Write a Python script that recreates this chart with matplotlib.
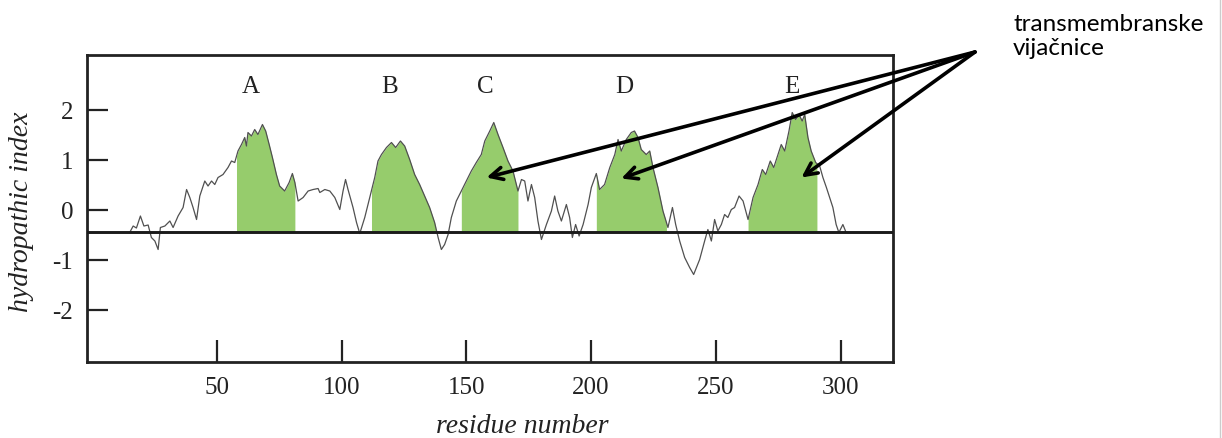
import numpy as np
import matplotlib
matplotlib.use("Agg")
import matplotlib.pyplot as plt
from matplotlib.lines import Line2D

plt.rcParams['axes.unicode_minus'] = False

# hydropathy profile (residue, index)
residue = [15.1, 16.5, 17.8, 19.4, 20.8, 22.5, 23.8, 25.2, 26.5, 27.4, 29.2, 31.2, 32.5,
           34.5, 36.5, 37.9, 39.2, 40.5, 41.9, 43.2, 45.2, 46.5, 47.9, 49.2, 50.5, 52.5,
           54.5, 55.9, 57.2, 58.5, 59.9, 61.2, 61.9, 62.5, 63.9, 65.2, 66.5, 68.3, 69.6,
           71.0, 72.3, 73.9, 75.2, 77.2, 79.0, 80.3, 81.3, 82.6, 84.6, 86.6, 88.6, 90.6,
           91.3, 93.3, 95.3, 97.3, 99.3, 100.6, 101.6, 102.6, 104.6, 106.0, 107.3, 109.3,
           111.3, 113.3, 114.6, 116.0, 118.0, 120.0, 121.7, 123.6, 125.3, 127.3, 129.3,
           131.3, 133.3, 135.3, 137.3, 138.7, 140.0, 141.3, 142.7, 144.0, 146.0, 148.0,
           150.0, 152.0, 154.0, 156.0, 157.4, 159.4, 161.0, 162.7, 164.7, 166.7, 168.7,
           170.7, 172.1, 173.4, 174.7, 176.1, 177.4, 178.7, 180.1, 182.1, 184.1, 185.4,
           186.7, 188.1, 190.1, 191.4, 192.5, 193.8, 195.2, 196.8, 198.8, 200.1, 202.1,
           203.4, 205.4, 207.5, 209.5, 210.8, 212.1, 214.1, 216.1, 217.4, 218.8, 220.1,
           222.1, 223.5, 224.8, 226.8, 228.8, 230.8, 232.6, 233.9, 235.5, 237.5, 239.5,
           241.1, 243.5, 245.5, 246.8, 248.2, 249.5, 250.8, 252.2, 253.5, 254.8, 256.2,
           257.5, 259.3, 260.9, 262.9, 264.9, 266.9, 268.6, 270.0, 271.8, 273.2, 274.9,
           276.2, 277.6, 279.3, 280.6, 282.0, 283.3, 284.6, 285.6, 286.9, 288.2, 290.0,
           291.6, 292.9, 294.3, 295.6, 296.9, 298.2, 299.3, 300.9, 302.2]
hydro = [-0.45, -0.32, -0.36, -0.12, -0.32, -0.30, -0.55, -0.62, -0.79, -0.35, -0.32, -0.22,
         -0.35, -0.12, 0.05, 0.41, 0.25, 0.05, -0.19, 0.28, 0.58, 0.48, 0.58, 0.51, 0.65,
         0.71, 0.85, 0.98, 0.95, 1.18, 1.31, 1.45, 1.28, 1.55, 1.48, 1.61, 1.51, 1.71, 1.58,
         1.31, 1.05, 0.71, 0.48, 0.38, 0.55, 0.73, 0.55, 0.18, 0.25, 0.38, 0.41, 0.43,
         0.35, 0.41, 0.38, 0.25, 0.01, 0.38, 0.61, 0.41, 0.05, -0.25, -0.47, -0.15,
         0.25, 0.65, 0.98, 1.11, 1.25, 1.35, 1.25, 1.38, 1.28, 1.01, 0.71,
         0.51, 0.28, 0.05, -0.25, -0.55, -0.79, -0.69, -0.49, -0.15, 0.18, 0.38,
         0.58, 0.78, 0.95, 1.11, 1.38, 1.58, 1.75, 1.51, 1.25, 0.98, 0.78,
         0.38, 0.61, 0.58, 0.18, 0.51, 0.25, -0.22, -0.59, -0.29, -0.02, 0.28,
         -0.02, -0.22, 0.11, -0.15, -0.55, -0.29, -0.52, -0.29, 0.11, 0.45, 0.73,
         0.41, 0.51, 0.85, 1.11, 1.41, 1.18, 1.41, 1.55, 1.58, 1.45, 1.21,
         1.11, 1.18, 0.85, 0.45, -0.02, -0.35, 0.05, -0.29, -0.62, -0.95, -1.15,
         -1.29, -0.99, -0.62, -0.39, -0.62, -0.19, -0.42, -0.29, -0.09, -0.15, 0.01,
         0.05, 0.28, 0.18, -0.19, 0.25, 0.51, 0.81, 0.71, 0.98, 0.85, 1.11,
         1.31, 1.18, 1.58, 1.95, 1.81, 1.91, 1.78, 1.91, 1.45, 1.18, 0.95,
         0.88, 0.65, 0.45, 0.25, 0.05, -0.29, -0.45, -0.29, -0.45]

BASELINE = -0.44

helix_names = ['A', 'B', 'C', 'D', 'E']
helix_start = [57.9, 112.0, 148.0, 202.1, 262.9]
helix_end = [81.3, 137.7, 170.7, 230.2, 290.5]
label_pos = [63.6, 119.3, 157.8, 213.5, 280.5]
label_y = 2.46

# where the three arrows point (C, D, E)
arrow_tips = [(158.1, 0.65), (212.1, 0.63), (284.3, 0.65)]

x_ticks = [50, 100, 150, 200, 250, 300]
y_ticks = [2, 1, 0, -1, -2]

SERIF = ['Liberation Serif', 'DejaVu Serif']

fig = plt.figure(figsize=(12.22, 4.38), dpi=100)
ax = fig.add_axes([0.0712, 0.1735, 0.6596, 0.7009])

for a, b in zip(helix_start, helix_end):
    xs = np.linspace(a, b, 300)
    ys = np.interp(xs, residue, hydro)
    ax.fill_between(xs, BASELINE, ys, where=ys > BASELINE, color='#96cc6c',
                    linewidth=0, zorder=1)

ax.plot(residue, hydro, color='#505050', lw=0.9, zorder=2)
ax.axhline(BASELINE, color='#1a1a1a', lw=2.1, zorder=3)

for name, xp in zip(helix_names, label_pos):
    ax.text(xp, label_y, name, ha='center', va='center', fontsize=18,
            family=SERIF, color='#222222')

ax.set_xlim(-2, 321)
ax.set_ylim(-3.04, 3.1)
ax.set_xticks(x_ticks)
ax.set_yticks(y_ticks)
ax.tick_params(axis='both', direction='in', width=1.6, color='#222222',
               labelsize=18, labelcolor='#222222')
ax.tick_params(axis='x', length=16, pad=11)
ax.tick_params(axis='y', length=15, pad=10)
for lab in ax.get_xticklabels() + ax.get_yticklabels():
    lab.set_family(SERIF)
for sp in ax.spines.values():
    sp.set_linewidth(2.0)
    sp.set_color('#222222')

ax.set_xlabel('residue number', fontsize=20, style='italic', family=SERIF,
              color='#222222')
ax.xaxis.set_label_coords(0.54, -0.17)
ax.set_ylabel('hydropathic index', fontsize=20, style='italic', family=SERIF,
              color='#222222')
ax.yaxis.set_label_coords(-0.066, 0.49)

start = (975 / 1222, 1 - 52 / 438)
for tip in arrow_tips:
    ax.annotate('', xy=tip, xycoords='data', xytext=start, textcoords='figure fraction',
                arrowprops=dict(arrowstyle='->', lw=2.6, color='black', mutation_scale=22,
                                shrinkA=0, shrinkB=0),
                annotation_clip=False)

fig.text(1013 / 1222, 1 - 14 / 438, 'transmembranske\nvijačnice', ha='left', va='top',
         fontsize=17.5, family=['Lato', 'DejaVu Sans'], color='black', linespacing=1.15)

fig.add_artist(Line2D([1220 / 1222, 1220 / 1222], [0, 1], color='#cccccc', lw=1.0))

fig.savefig('out.png', dpi=100)
